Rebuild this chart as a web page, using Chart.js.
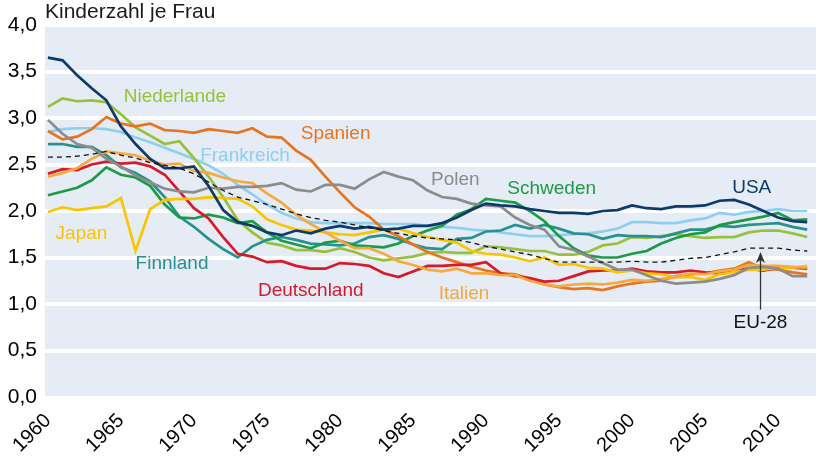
<!DOCTYPE html>
<html>
<head>
<meta charset="utf-8">
<script src="https://cdn.jsdelivr.net/npm/chart.js@4"></script>
<style>
html,body{margin:0;padding:0;background:#fff;}
canvas{display:block;}
</style>
</head>
<body>
<canvas id="c" width="819" height="456"></canvas>
<script>
const years = [1960,1961,1962,1963,1964,1965,1966,1967,1968,1969,1970,1971,1972,1973,1974,1975,1976,1977,1978,1979,1980,1981,1982,1983,1984,1985,1986,1987,1988,1989,1990,1991,1992,1993,1994,1995,1996,1997,1998,1999,2000,2001,2002,2003,2004,2005,2006,2007,2008,2009,2010,2011,2012];

const eu28 = [2.58,2.58,2.59,2.61,2.64,2.60,2.57,2.52,2.49,2.46,2.40,2.31,2.22,2.15,2.11,2.07,2.02,1.97,1.93,1.90,1.88,1.85,1.82,1.79,1.76,1.73,1.71,1.70,1.69,1.66,1.62,1.59,1.56,1.53,1.49,1.45,1.45,1.45,1.45,1.45,1.46,1.45,1.45,1.47,1.49,1.50,1.53,1.56,1.60,1.60,1.60,1.58,1.57];
const usa = [3.65,3.62,3.46,3.32,3.19,2.91,2.72,2.56,2.46,2.46,2.48,2.27,2.01,1.88,1.84,1.77,1.74,1.79,1.76,1.81,1.84,1.81,1.83,1.80,1.81,1.84,1.84,1.87,1.93,2.01,2.08,2.06,2.05,2.02,2.00,1.98,1.98,1.97,2.00,2.01,2.06,2.03,2.02,2.05,2.05,2.06,2.11,2.12,2.07,2.00,1.93,1.89,1.88];
const niederlande = [3.12,3.21,3.18,3.19,3.17,3.04,2.90,2.81,2.72,2.75,2.57,2.37,2.15,1.90,1.77,1.66,1.63,1.58,1.58,1.56,1.60,1.56,1.50,1.47,1.49,1.51,1.55,1.56,1.55,1.55,1.62,1.61,1.59,1.57,1.57,1.53,1.53,1.56,1.63,1.65,1.72,1.71,1.73,1.75,1.73,1.71,1.72,1.72,1.77,1.79,1.79,1.76,1.72];
const spanien = [2.86,2.77,2.80,2.88,3.01,2.94,2.91,2.94,2.87,2.86,2.84,2.88,2.86,2.84,2.89,2.80,2.79,2.65,2.55,2.37,2.20,2.04,1.94,1.80,1.73,1.64,1.56,1.50,1.45,1.40,1.36,1.33,1.32,1.27,1.21,1.18,1.16,1.17,1.15,1.19,1.22,1.24,1.25,1.30,1.32,1.33,1.36,1.38,1.45,1.38,1.37,1.34,1.32];
const frankreich = [2.85,2.88,2.89,2.89,2.88,2.85,2.79,2.74,2.68,2.62,2.56,2.49,2.40,2.28,2.18,2.07,1.98,1.92,1.88,1.87,1.87,1.87,1.87,1.86,1.86,1.86,1.84,1.83,1.82,1.80,1.79,1.77,1.75,1.73,1.73,1.74,1.75,1.76,1.78,1.81,1.88,1.88,1.87,1.87,1.90,1.92,1.98,1.96,1.99,2.00,2.02,2.00,2.00];
const polen = [2.98,2.83,2.72,2.68,2.56,2.48,2.38,2.31,2.24,2.21,2.20,2.25,2.24,2.26,2.26,2.27,2.30,2.23,2.21,2.28,2.28,2.24,2.34,2.42,2.37,2.33,2.22,2.15,2.13,2.08,2.06,2.05,1.93,1.85,1.80,1.62,1.58,1.51,1.44,1.37,1.37,1.31,1.25,1.22,1.23,1.24,1.27,1.31,1.39,1.40,1.38,1.30,1.30];
const schweden = [2.17,2.21,2.25,2.33,2.47,2.39,2.36,2.27,2.07,1.93,1.92,1.96,1.93,1.87,1.89,1.77,1.68,1.64,1.60,1.66,1.68,1.63,1.62,1.61,1.65,1.73,1.79,1.84,1.96,2.02,2.13,2.11,2.09,2.00,1.89,1.73,1.60,1.52,1.50,1.50,1.54,1.57,1.65,1.71,1.75,1.77,1.85,1.88,1.91,1.94,1.98,1.90,1.91];
const finnland = [2.72,2.72,2.69,2.69,2.60,2.47,2.41,2.32,2.15,1.94,1.83,1.70,1.59,1.50,1.62,1.69,1.72,1.69,1.65,1.64,1.63,1.65,1.72,1.74,1.70,1.64,1.60,1.59,1.70,1.71,1.78,1.79,1.85,1.81,1.85,1.81,1.76,1.75,1.70,1.74,1.73,1.73,1.72,1.76,1.80,1.80,1.84,1.83,1.85,1.86,1.87,1.83,1.80];
const deutschland = [2.40,2.45,2.44,2.50,2.53,2.51,2.52,2.48,2.39,2.21,2.03,1.92,1.72,1.54,1.51,1.45,1.46,1.41,1.38,1.38,1.44,1.43,1.41,1.33,1.29,1.35,1.41,1.41,1.42,1.42,1.45,1.33,1.30,1.28,1.24,1.25,1.30,1.35,1.36,1.36,1.38,1.35,1.34,1.34,1.36,1.34,1.33,1.37,1.38,1.36,1.39,1.39,1.38];
const japan = [1.99,2.04,2.01,2.03,2.05,2.14,1.57,2.02,2.12,2.13,2.13,2.15,2.14,2.13,2.05,1.91,1.85,1.80,1.79,1.77,1.75,1.74,1.77,1.80,1.81,1.76,1.72,1.69,1.66,1.57,1.54,1.53,1.50,1.46,1.50,1.42,1.43,1.39,1.38,1.34,1.36,1.33,1.32,1.29,1.29,1.26,1.32,1.34,1.37,1.37,1.39,1.39,1.41];
const italien = [2.37,2.41,2.46,2.56,2.64,2.62,2.60,2.54,2.50,2.51,2.43,2.41,2.36,2.32,2.30,2.19,2.09,1.96,1.86,1.77,1.68,1.60,1.60,1.54,1.46,1.42,1.37,1.35,1.38,1.33,1.33,1.31,1.31,1.25,1.21,1.19,1.21,1.22,1.21,1.23,1.26,1.25,1.27,1.29,1.33,1.32,1.35,1.37,1.42,1.41,1.41,1.40,1.39];

const xTickValues = [1960,1965,1970,1975,1980,1985,1990,1995,2000,2005,2010];
const xTickLabels = ['1960','1965','1970','1975','1980','1985','1990','1995','2000','2005','2010'];
const yTickLabels = ['0,0','0,5','1,0','1,5','2,0','2,5','3,0','3,5','4,0'];
const yTitle = 'Kinderzahl je Frau';

// name, data, colour
const series = [
  ['EU-28', eu28, '#111111'],
  ['USA', usa, '#0D3A6A'],
  ['Polen', polen, '#8C8C8C'],
  ['Italien', italien, '#F4AA3E'],
  ['Japan', japan, '#F8C500'],
  ['Deutschland', deutschland, '#D8192B'],
  ['Spanien', spanien, '#E8741E'],
  ['Schweden', schweden, '#1D9A47'],
  ['Finnland', finnland, '#27918D'],
  ['Niederlande', niederlande, '#97C13C'],
  ['Frankreich', frankreich, '#8ECFF0']
];

// direct labels: text, anchor year, anchor value, colour
const labelSpots = [
  ['Niederlande', 1968.7, 3.23, '#97C13C'],
  ['Spanien', 1979.7, 2.83, '#E8741E'],
  ['Frankreich', 1973.5, 2.59, '#8ECFF0'],
  ['Polen', 1987.9, 2.34, '#8C8C8C'],
  ['Schweden', 1994.5, 2.24, '#1D9A47'],
  ['USA', 2008.2, 2.25, '#0D3A6A'],
  ['Japan', 1962.3, 1.76, '#F8C500'],
  ['Finnland', 1968.5, 1.43, '#27918D'],
  ['Deutschland', 1978.0, 1.14, '#D8192B'],
  ['Italien', 1988.5, 1.11, '#F4AA3E'],
  ['EU-28', 2008.8, 0.80, '#111111']
];
const arrowFrom = [2008.8, 0.94];
const arrowTo = [2008.8, 1.56];

const FONT = '"Liberation Sans", Arial, sans-serif';

const datasets = series.map(([name, arr, col]) => ({
  label: name,
  data: years.map((y, i) => ({x: y, y: arr[i]})),
  borderColor: col,
  backgroundColor: col,
  borderWidth: name === 'EU-28' ? 1.3 : 2.7,
  borderDash: name === 'EU-28' ? [5, 4] : [],
  pointRadius: 0,
  tension: 0,
  fill: false
}));

const deco = {
  id: 'deco',
  beforeDraw(chart) {
    const {ctx, chartArea: a} = chart;
    ctx.save();
    ctx.fillStyle = '#E6ECF6';
    ctx.fillRect(a.left, a.top, a.right - a.left, a.bottom - a.top);
    ctx.restore();
  },
  afterDraw(chart) {
    const {ctx, chartArea: a, scales: {x, y}} = chart;
    ctx.save();
    ctx.font = '21px ' + FONT;
    ctx.fillStyle = '#1a1a1a';
    ctx.textAlign = 'left';
    ctx.textBaseline = 'alphabetic';
    ctx.fillText(yTitle, a.left, 18);
    ctx.font = '19px ' + FONT;
    ctx.textAlign = 'center';
    ctx.textBaseline = 'middle';
    labelSpots.forEach(([t, xv, yv, c]) => {
      ctx.fillStyle = c;
      ctx.fillText(t, x.getPixelForValue(xv), y.getPixelForValue(yv));
    });
    // arrow
    const ax = x.getPixelForValue(arrowFrom[0]);
    const y0 = y.getPixelForValue(arrowFrom[1]);
    const y1 = y.getPixelForValue(arrowTo[1]);
    ctx.strokeStyle = '#333';
    ctx.fillStyle = '#333';
    ctx.lineWidth = 1.3;
    ctx.beginPath();
    ctx.moveTo(ax, y0);
    ctx.lineTo(ax, y1 + 6);
    ctx.stroke();
    ctx.beginPath();
    ctx.moveTo(ax, y1);
    ctx.lineTo(ax - 4.5, y1 + 11);
    ctx.lineTo(ax, y1 + 8);
    ctx.lineTo(ax + 4.5, y1 + 11);
    ctx.closePath();
    ctx.fill();
    ctx.restore();
  }
};

new Chart(document.getElementById('c'), {
  type: 'line',
  data: {datasets},
  plugins: [deco],
  options: {
    responsive: false,
    animation: false,
    devicePixelRatio: 1,
    layout: {padding: {top: 25, right: 3, left: 0, bottom: 0}},
    plugins: {legend: {display: false}, tooltip: {enabled: false}, title: {display: false}},
    scales: {
      x: {
        type: 'linear',
        min: 1959.8,
        max: 2012.6,
        afterBuildTicks(scale) { scale.ticks = xTickValues.map(v => ({value: v})); },
        afterFit(scale) { scale.height = 59; },
        ticks: {
          autoSkip: false,
          minRotation: 45,
          maxRotation: 45,
          padding: 12,
          color: '#000',
          font: {family: FONT, size: 20},
          callback(v) { const i = xTickValues.indexOf(v); return i >= 0 ? xTickLabels[i] : ''; }
        },
        grid: {display: false, drawTicks: false},
        border: {display: true, color: '#ffffff', width: 2, dash: [3, 3]}
      },
      y: {
        min: 0,
        max: 4,
        afterFit(scale) { scale.width = 45; },
        ticks: {
          stepSize: 0.5,
          padding: 8,
          color: '#000',
          font: {family: FONT, size: 21},
          callback(v) { return yTickLabels[Math.round(v * 2)]; }
        },
        grid: {
          color: '#ffffff',
          lineWidth: (c) => (c.tick && c.tick.value === 0 ? 0 : 4),
          drawTicks: false
        },
        border: {display: false}
      }
    }
  }
});
</script>
</body>
</html>
